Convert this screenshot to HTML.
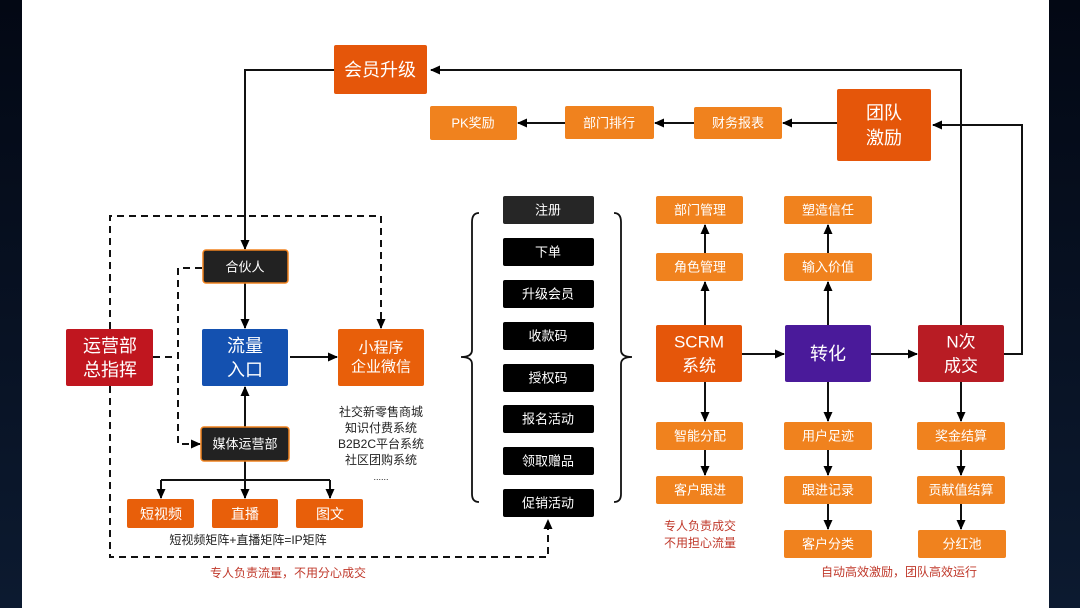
<!DOCTYPE html>
<html><head><meta charset="utf-8"><style>
html,body{margin:0;padding:0;width:1080px;height:608px;overflow:hidden;background:#fff}
svg text{font-family:"Liberation Sans","Noto Sans CJK SC",sans-serif;text-anchor:middle;dominant-baseline:central}
</style></head><body>
<svg width="1080" height="608" viewBox="0 0 1080 608" xmlns="http://www.w3.org/2000/svg">
<defs>
<marker id="a" markerWidth="10" markerHeight="10" refX="9" refY="5" orient="auto" markerUnits="userSpaceOnUse"><path d="M0,0.5 L10,5 L0,9.5 Z" fill="#000"/></marker>
<linearGradient id="dk" x1="0" y1="0" x2="0" y2="1"><stop offset="0" stop-color="#030814"/><stop offset="1" stop-color="#0c1a30"/></linearGradient>
</defs>
<rect x="0" y="0" width="22" height="608" fill="url(#dk)"/>
<rect x="1049" y="0" width="31" height="608" fill="url(#dk)"/>

<g stroke="#111" stroke-width="2" fill="none">
<path d="M334,70 L245,70 L245,249" marker-end="url(#a)"/>
<path d="M961,325 L961,70 L431,70" marker-end="url(#a)"/>
<path d="M1004,354 L1022,354 L1022,125 L933,125" marker-end="url(#a)"/>
<path d="M837,123 L783,123" marker-end="url(#a)"/>
<path d="M694,123 L655,123" marker-end="url(#a)"/>
<path d="M565,123 L518,123" marker-end="url(#a)"/>
<path d="M245,283 L245,328" marker-end="url(#a)"/>
<path d="M245,427 L245,387" marker-end="url(#a)"/>
<path d="M290,357 L337,357" marker-end="url(#a)"/>
<path d="M245,461 L245,480 M161,480 L330,480"/>
<path d="M161,480 L161,498" marker-end="url(#a)"/>
<path d="M245,480 L245,498" marker-end="url(#a)"/>
<path d="M330,480 L330,498" marker-end="url(#a)"/>
<path d="M742,354 L784,354" marker-end="url(#a)"/>
<path d="M871,354 L917,354" marker-end="url(#a)"/>
<path d="M705,325 L705,282" marker-end="url(#a)"/>
<path d="M705,253 L705,225" marker-end="url(#a)"/>
<path d="M828,325 L828,282" marker-end="url(#a)"/>
<path d="M828,253 L828,225" marker-end="url(#a)"/>
<path d="M705,382 L705,421" marker-end="url(#a)"/>
<path d="M705,450 L705,475" marker-end="url(#a)"/>
<path d="M828,382 L828,421" marker-end="url(#a)"/>
<path d="M828,450 L828,475" marker-end="url(#a)"/>
<path d="M828,504 L828,529" marker-end="url(#a)"/>
<path d="M961,382 L961,421" marker-end="url(#a)"/>
<path d="M961,450 L961,475" marker-end="url(#a)"/>
<path d="M961,504 L961,529" marker-end="url(#a)"/>
<path d="M479,213 Q472,213 472,222 L472,350 Q472,357 461,357 Q472,357 472,364 L472,494 Q472,502 479,502" stroke-width="1.8"/>
<path d="M614,213 Q621,213 621,222 L621,350 Q621,357 632,357 Q621,357 621,364 L621,494 Q621,502 614,502" stroke-width="1.8"/>
</g>
<g stroke="#111" stroke-width="2" fill="none" stroke-dasharray="7,5">
<path d="M110,329 L110,216 L381,216 L381,328" marker-end="url(#a)"/>
<path d="M110,386 L110,557 L548,557 L548,520" marker-end="url(#a)"/>
<path d="M153,357 L178,357"/>
<path d="M202,268 L178,268 L178,444 L200,444" marker-end="url(#a)"/>
</g>

<rect x="334" y="45" width="93" height="49" rx="2" fill="#e5560a"/><text x="380" y="70" fill="#fff" font-size="18">会员升级</text>
<rect x="837" y="89" width="94" height="72" rx="2" fill="#e5560a"/><text x="884" y="113" fill="#fff" font-size="18">团队</text><text x="884" y="138" fill="#fff" font-size="18">激励</text>
<g fill="#f0821e"><rect x="694" y="107" width="88" height="32" rx="2"/><rect x="565" y="106" width="89" height="33" rx="2"/><rect x="430" y="106" width="87" height="34" rx="2"/></g>
<g fill="#fff" font-size="13"><text x="738" y="123">财务报表</text><text x="609" y="123">部门排行</text><text x="473" y="123">PK奖励</text></g>

<rect x="203" y="250" width="85" height="33" rx="3" fill="#222" stroke="#f0821e" stroke-width="1.5"/><text x="245" y="267" fill="#fff" font-size="13">合伙人</text>
<rect x="201" y="427" width="88" height="34" rx="3" fill="#222" stroke="#f0821e" stroke-width="1.5"/><text x="245" y="444" fill="#fff" font-size="13">媒体运营部</text>
<rect x="66" y="329" width="87" height="57" rx="2" fill="#c0161f"/><text x="110" y="346" fill="#fff" font-size="18">运营部</text><text x="110" y="370" fill="#fff" font-size="18">总指挥</text>
<rect x="202" y="329" width="86" height="57" rx="2" fill="#1451b0"/><text x="245" y="346" fill="#fff" font-size="18">流量</text><text x="245" y="370" fill="#fff" font-size="18">入口</text>
<rect x="338" y="329" width="86" height="57" rx="2" fill="#e85f0a"/><text x="381" y="348" fill="#fff" font-size="15">小程序</text><text x="381" y="367" fill="#fff" font-size="15">企业微信</text>
<g fill="#e85f0a"><rect x="127" y="499" width="67" height="29" rx="2"/><rect x="212" y="499" width="66" height="29" rx="2"/><rect x="296" y="499" width="67" height="29" rx="2"/></g>
<g fill="#fff" font-size="14"><text x="161" y="514">短视频</text><text x="245" y="514">直播</text><text x="330" y="514">图文</text></g>
<text x="248" y="540" font-size="12" fill="#222">短视频矩阵+直播矩阵=IP矩阵</text>
<text x="288" y="573" font-size="12" fill="#c0392b">专人负责流量，不用分心成交</text>
<g font-size="12" fill="#222"><text x="381" y="412">社交新零售商城</text><text x="381" y="428">知识付费系统</text><text x="381" y="444">B2B2C平台系统</text><text x="381" y="460">社区团购系统</text><text x="381" y="477" font-size="9">......</text></g>

<rect x="503" y="196" width="91" height="28" rx="2" fill="#262626"/>
<g fill="#000"><rect x="503" y="238" width="91" height="28" rx="2"/><rect x="503" y="280" width="91" height="28" rx="2"/><rect x="503" y="322" width="91" height="28" rx="2"/><rect x="503" y="364" width="91" height="28" rx="2"/><rect x="503" y="405" width="91" height="28" rx="2"/><rect x="503" y="447" width="91" height="28" rx="2"/><rect x="503" y="489" width="91" height="28" rx="2"/></g>
<g fill="#fff" font-size="13"><text x="548" y="210">注册</text><text x="548" y="252">下单</text><text x="548" y="294">升级会员</text><text x="548" y="336">收款码</text><text x="548" y="378">授权码</text><text x="548" y="419">报名活动</text><text x="548" y="461">领取赠品</text><text x="548" y="503">促销活动</text></g>

<rect x="656" y="325" width="86" height="57" rx="2" fill="#e5560a"/><text x="699" y="342" fill="#fff" font-size="17">SCRM</text><text x="699" y="366" fill="#fff" font-size="17">系统</text>
<rect x="785" y="325" width="86" height="57" rx="2" fill="#4a1a9a"/><text x="828" y="354" fill="#fff" font-size="18">转化</text>
<rect x="918" y="325" width="86" height="57" rx="2" fill="#b81c24"/><text x="961" y="342" fill="#fff" font-size="17">N次</text><text x="961" y="366" fill="#fff" font-size="17">成交</text>
<g fill="#f0821e">
<rect x="656" y="196" width="87" height="28" rx="2"/><rect x="656" y="253" width="87" height="28" rx="2"/>
<rect x="784" y="196" width="88" height="28" rx="2"/><rect x="784" y="253" width="88" height="28" rx="2"/>
<rect x="656" y="422" width="87" height="28" rx="2"/><rect x="656" y="476" width="87" height="28" rx="2"/>
<rect x="784" y="422" width="88" height="28" rx="2"/><rect x="784" y="476" width="88" height="28" rx="2"/><rect x="784" y="530" width="88" height="28" rx="2"/>
<rect x="917" y="422" width="88" height="28" rx="2"/><rect x="917" y="476" width="88" height="28" rx="2"/><rect x="918" y="530" width="88" height="28" rx="2"/>
</g>
<g fill="#fff" font-size="13">
<text x="700" y="210">部门管理</text><text x="700" y="267">角色管理</text>
<text x="828" y="210">塑造信任</text><text x="828" y="267">输入价值</text>
<text x="700" y="436">智能分配</text><text x="700" y="490">客户跟进</text>
<text x="828" y="436">用户足迹</text><text x="828" y="490">跟进记录</text><text x="828" y="544">客户分类</text>
<text x="961" y="436">奖金结算</text><text x="961" y="490">贡献值结算</text><text x="962" y="544">分红池</text>
</g>
<g fill="#c0392b" font-size="12"><text x="700" y="526">专人负责成交</text><text x="700" y="543">不用担心流量</text><text x="899" y="572">自动高效激励，团队高效运行</text></g>
</svg>
</body></html>
